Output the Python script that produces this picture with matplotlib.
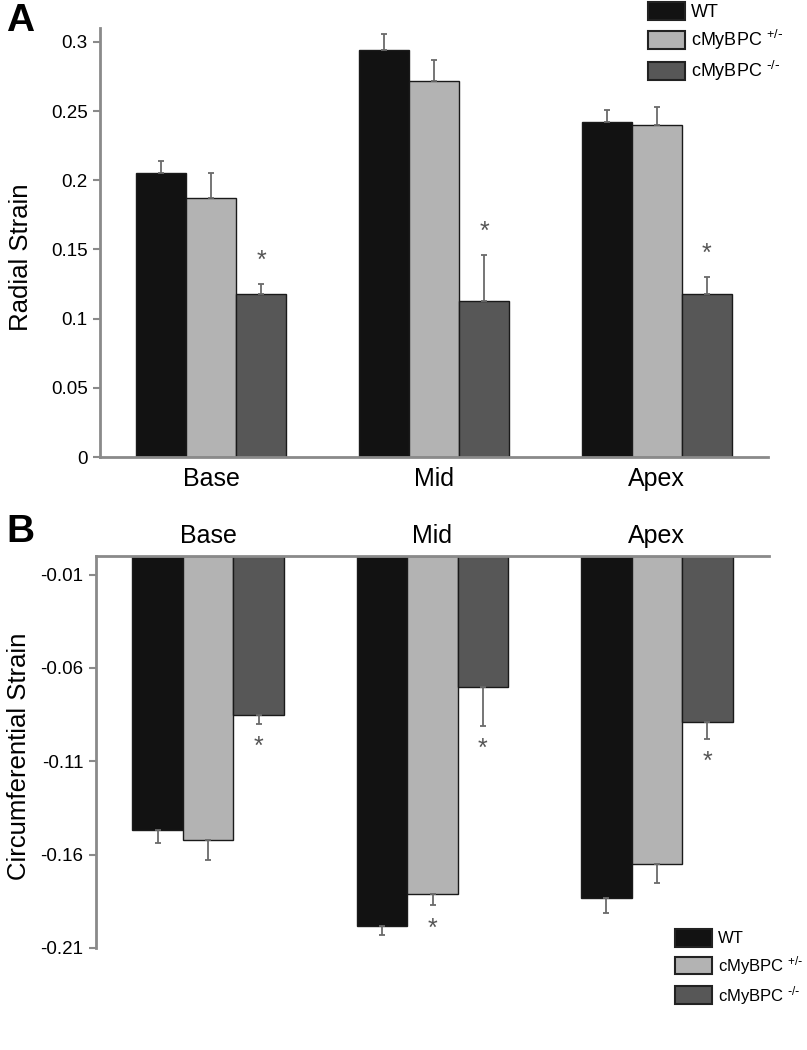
import numpy as np
import matplotlib.pyplot as plt
from matplotlib.patches import Patch

plt.rcParams['font.family'] = ['Liberation Sans', 'DejaVu Sans']
plt.rcParams['mathtext.default'] = 'regular'

regions = ['Base', 'Mid', 'Apex']
groups = ['WT', r'cMyBPC $^{+/\text{-}}$', r'cMyBPC $^{\text{-}/\text{-}}$']
colors = ['#121212', '#b3b3b3', '#575757']

# panel A - radial strain
radial_wt = [0.205, 0.294, 0.242]
radial_het = [0.187, 0.272, 0.240]
radial_ko = [0.118, 0.113, 0.118]
radial_wt_err = [0.009, 0.012, 0.009]
radial_het_err = [0.018, 0.015, 0.013]
radial_ko_err = [0.007, 0.033, 0.012]
radial_sig = [[False, False, False], [False, False, False], [True, True, True]]

# panel B - circumferential strain
circ_wt = [-0.147, -0.198, -0.183]
circ_het = [-0.152, -0.181, -0.165]
circ_ko = [-0.085, -0.070, -0.089]
circ_wt_err = [0.007, 0.005, 0.008]
circ_het_err = [0.011, 0.006, 0.010]
circ_ko_err = [0.005, 0.021, 0.009]
circ_sig = [[False, False, False], [False, True, False], [True, True, True]]

W, H = 807, 1050
fig = plt.figure(figsize=(W / 100, H / 100), dpi=100)
axis_col = '#8a8a8a'
err_col = '#6a6a6a'
width = 0.225
x = np.arange(len(regions))


def draw(ax, series, errs, sig, up, star_off):
    for i, (vals, e) in enumerate(zip(series, errs)):
        pos = x + (i - 1) * width
        yerr = [np.zeros(3), e] if up else [e, np.zeros(3)]
        ax.bar(pos, vals, width, color=colors[i], edgecolor='#1a1a1a', linewidth=1.0,
               yerr=yerr, error_kw=dict(ecolor=err_col, elinewidth=1.3, capsize=2.5, capthick=1.3),
               zorder=2)
        for j in range(3):
            if sig[i][j]:
                if up:
                    ys = vals[j] + e[j] + star_off
                else:
                    ys = vals[j] - e[j] - star_off
                ax.text(pos[j], ys, '*', ha='center', va='center', fontsize=18, color='#555555')


def legend(ax, px, py, fs):
    handles = [Patch(facecolor=c, edgecolor='#222222', linewidth=1.5) for c in colors]
    ax.legend(handles, groups, loc='upper left', bbox_to_anchor=(px / W, 1 - py / H),
              bbox_transform=fig.transFigure, frameon=False, borderpad=0, borderaxespad=0,
              handlelength=37 / (fs * 100 / 72), handleheight=21 / (fs * 100 / 72),
              labelspacing=7 / (fs * 100 / 72), handletextpad=6 / (fs * 100 / 72),
              fontsize=fs)


# ---- A ----
axA = fig.add_axes([100 / W, 1 - 457 / H, (768 - 100) / W, (457 - 28) / H])
draw(axA, [radial_wt, radial_het, radial_ko], [radial_wt_err, radial_het_err, radial_ko_err],
     radial_sig, True, 0.017)
axA.set_xlim(-0.5, 2.5)
axA.set_ylim(0, 0.31)
axA.set_yticks([0, 0.05, 0.1, 0.15, 0.2, 0.25, 0.3])
axA.set_yticklabels(['0', '0.05', '0.1', '0.15', '0.2', '0.25', '0.3'])
axA.set_xticks(x)
axA.set_xticklabels(regions, fontsize=18)
axA.tick_params(axis='x', length=0, pad=7)
axA.tick_params(axis='y', length=5, width=1.5, color=axis_col, labelsize=13.5, pad=4)
for s in ['top', 'right']:
    axA.spines[s].set_visible(False)
for s in ['left', 'bottom']:
    axA.spines[s].set_color(axis_col)
    axA.spines[s].set_linewidth(2)
axA.set_ylabel('Radial Strain', fontsize=18.5)
axA.yaxis.set_label_coords(-0.1, 0.465)
legend(axA, 648, 2, 13)
fig.text(6 / W, 1 - 3 / H, 'A', fontsize=28, fontweight='bold', va='top', ha='left')

# ---- B ----
axB = fig.add_axes([96 / W, 1 - 948 / H, (769 - 96) / W, (948 - 556) / H])
draw(axB, [circ_wt, circ_het, circ_ko], [circ_wt_err, circ_het_err, circ_ko_err],
     circ_sig, False, 0.0125)
axB.set_xlim(-0.5, 2.5)
axB.set_ylim(-0.21, 0)
yt = [-0.01, -0.06, -0.11, -0.16, -0.21]
axB.set_yticks(yt)
axB.set_yticklabels(['%g' % v for v in yt])
axB.xaxis.tick_top()
axB.set_xticks(x)
axB.set_xticklabels(regions, fontsize=18)
axB.tick_params(axis='x', length=0, pad=6)
axB.tick_params(axis='y', length=5, width=1.5, color=axis_col, labelsize=13.5, pad=4)
for s in ['bottom', 'right']:
    axB.spines[s].set_visible(False)
for s in ['left', 'top']:
    axB.spines[s].set_color(axis_col)
    axB.spines[s].set_linewidth(2)
axB.set_ylabel('Circumferential Strain', fontsize=18.5)
axB.yaxis.set_label_coords(-0.097, 0.49)
legend(axB, 675, 929, 12)
fig.text(6 / W, 1 - 514 / H, 'B', fontsize=28, fontweight='bold', va='top', ha='left')

fig.savefig('out.png', dpi=100)
